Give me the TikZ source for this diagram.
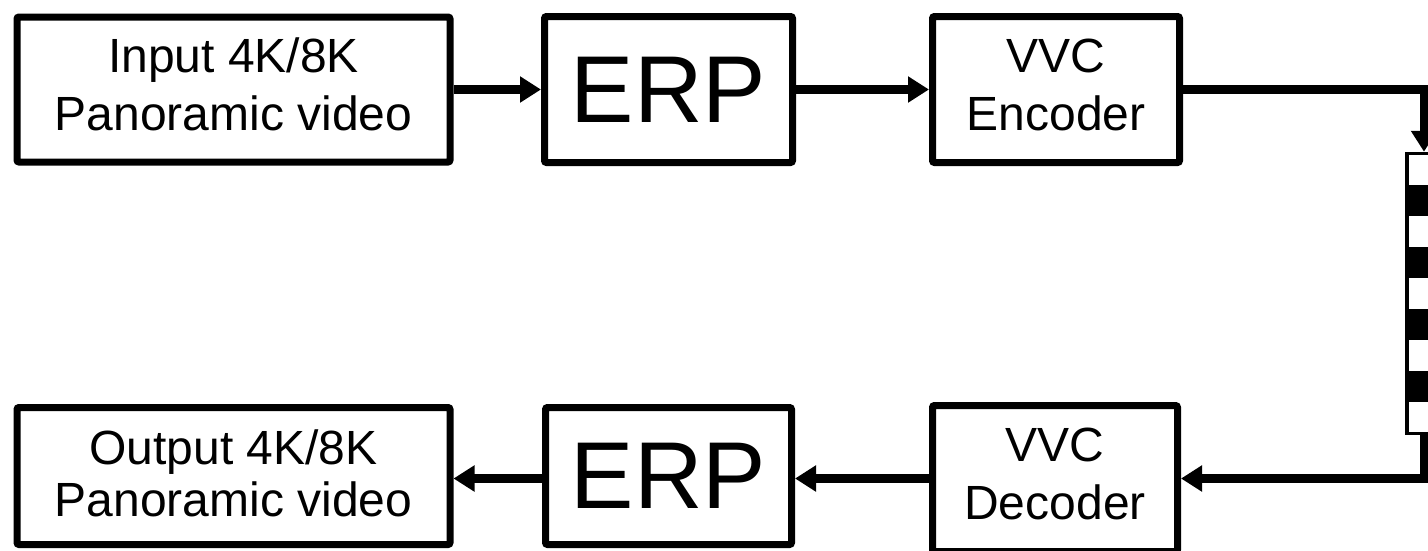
\documentclass[tikz,border=0pt]{standalone}
\usepackage{fontspec}
\setmainfont{Liberation Sans}
\usetikzlibrary{arrows.meta,calc}
% struts that give every label line the same height and depth
\newcommand{\lnstrut}{\vrule height 34pt depth 11pt width 0pt}
\newcommand{\lowstrut}{\vrule height 38pt depth 10pt width 0pt}
\begin{document}
\begin{tikzpicture}[x=1pt,y=-1pt,
  blk/.style={draw, line width=7pt, rounded corners=2pt, inner sep=0pt,
    align=center, font=\fontsize{48}{58}\selectfont},
  lowblk/.style={blk, font=\fontsize{48}{52}\selectfont},
  bigblk/.style={blk, font=\fontsize{95}{110}\selectfont},
  arr/.style={line width=9pt, -{Triangle[length=21pt,width=25pt]}},
  stream/.style={draw, line width=3.5pt, inner sep=0pt,
    minimum width=34pt, minimum height=280pt,
    path picture={
      \foreach \k in {1,3,5,7}{
        \fill[black]
          ($(path picture bounding box.north west)!{\k/9}!(path picture bounding box.south west)$)
          rectangle
          ($(path picture bounding box.north east)!{(\k+1)/9}!(path picture bounding box.south east)$);
      }}}
]
\useasboundingbox (0,0) rectangle (1428,550);
\clip (0,0) rectangle (1428,550);
\fill[white] (0,0) rectangle (1428,550);

% encoding chain
\node[blk, minimum width=433pt, minimum height=145pt] (in) at (233.5,89.5)
  {\lnstrut Input 4K/8K\\\lnstrut Panoramic video};
\node[bigblk, minimum width=248pt, minimum height=146pt] (erp1) at (668.5,89.5) {ERP};
\node[blk, minimum width=247pt, minimum height=146pt] (enc) at (1056,89.5)
  {\lnstrut VVC\\\lnstrut Encoder};

% bitstream
\node[stream] (bits) at (1424,293.5) {};

% decoding chain
\node[blk, minimum width=245pt, minimum height=146pt] (dec) at (1055,478.5)
  {\lnstrut VVC\\\lnstrut Decoder};
\node[bigblk, minimum width=246pt, minimum height=137pt] (erp2) at (668.5,476) {ERP};
\node[lowblk, minimum width=433pt, minimum height=137pt] (out) at (233.5,476)
  {\lowstrut Output 4K/8K\\\lowstrut Panoramic video};

% connectors
\draw[arr] (in) -- (erp1);
\draw[arr] (erp1) -- (enc);
\draw[arr] (enc.east) -| (bits.north);
\draw[arr] (bits.south) |- (dec.east);
\draw[arr] (dec.west) -- (dec.west -| erp2.east);
\draw[arr] (erp2.west |- dec.west) -- (dec.west -| out.east);
\end{tikzpicture}
\end{document}
